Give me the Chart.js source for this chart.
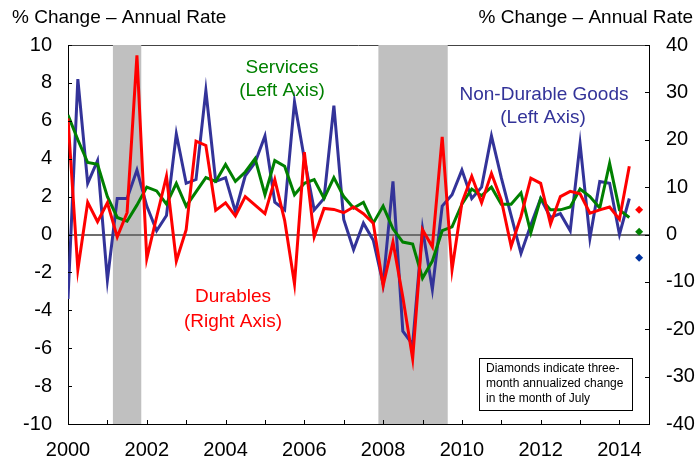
<!DOCTYPE html>
<html><head><meta charset="utf-8">
<script src="https://cdn.jsdelivr.net/npm/chart.js@4/dist/chart.umd.min.js"></script>
<style>html,body{margin:0;padding:0;background:#fff}#wrap{width:697px;height:460px}</style>
</head><body><div id="wrap"><canvas id="c" width="697" height="460"></canvas></div>
<script>
// Quarter positions (decimal years)
const quarters = [2000.00,2000.25,2000.50,2000.75,2001.00,2001.25,2001.50,2001.75,2002.00,2002.25,2002.50,2002.75,
2003.00,2003.25,2003.50,2003.75,2004.00,2004.25,2004.50,2004.75,2005.00,2005.25,2005.50,2005.75,
2006.00,2006.25,2006.50,2006.75,2007.00,2007.25,2007.50,2007.75,2008.00,2008.25,2008.50,2008.75,
2009.00,2009.25,2009.50,2009.75,2010.00,2010.25,2010.50,2010.75,2011.00,2011.25,2011.50,2011.75,
2012.00,2012.25,2012.50,2012.75,2013.00,2013.25,2013.50,2013.75,2014.00,2014.25];
// Non-durable goods, % change annual rate (left axis)
const nondurable = [-3.4,8.2,2.7,3.9,-2.4,1.9,1.9,3.4,1.5,0.2,1.0,5.3,2.7,2.9,7.6,2.8,3.0,1.2,3.1,3.8,5.2,1.7,1.3,7.0,
4.0,1.3,1.9,6.8,0.8,-0.8,0.6,-0.3,-2.6,2.8,-5.1,-5.8,0.3,-2.9,1.5,2.1,3.4,1.9,2.5,5.2,3.0,1.0,-1.0,0.5,
1.9,0.9,1.1,0.2,4.8,-0.2,2.8,2.7,0.0,1.9];
// Services (left axis)
const services = [6.3,5.0,3.8,3.7,2.0,0.9,0.7,1.55,2.5,2.3,1.6,2.7,1.5,2.25,3.0,2.8,3.7,2.8,3.3,4.0,2.1,3.9,3.6,2.1,
2.7,2.9,1.9,3.0,2.0,1.4,1.7,0.6,1.5,0.3,-0.4,-0.5,-2.3,-1.4,0.2,0.4,1.6,2.4,2.05,2.5,1.6,1.6,2.2,0.1,
1.9,1.3,1.3,1.45,2.4,2.0,1.4,3.75,1.3,0.9];
// Durables (right axis)
const durables = [24.5,-7.4,6.8,2.7,6.7,-0.5,4.6,37.8,-5.1,3.7,12.3,-5.6,1.0,19.7,18.8,5.1,6.7,3.9,8.0,6.2,4.4,11.6,3.0,-10.4,
17.4,-0.5,5.5,5.3,4.6,5.8,4.4,2.4,-10.8,-1.6,-13.2,-26.2,1.0,-2.6,20.6,-7.4,6.7,12.3,6.7,12.9,7.3,-2.5,3.8,11.9,
10.8,2.2,8.0,9.1,8.6,4.5,5.2,5.8,3.2,14.4];
// Three-month annualized change, July (diamonds)
const julyX = 2014.5;
const julyDurables = 5.2;     // right axis
const julyServices = 0.14;    // left axis
const julyNondurable = -1.23; // left axis
// Recession periods
const recessions = [[2001.14, 2001.86], [2007.88, 2009.64]];
// Axis ticks
const leftTicks = [-10,-8,-6,-4,-2,0,2,4,6,8,10];
const rightTicks = [-40,-30,-20,-10,0,10,20,30,40];
const yearTicks = [2000,2002,2004,2006,2008,2010,2012,2014];

const FONT = "'Liberation Sans', Arial, sans-serif";
const pts = arr => quarters.map((q,i)=>({x:q,y:arr[i]}));

const overlay = {
  id:'overlay',
  beforeDraw(chart){
    const {ctx, chartArea:a, scales:{x}} = chart;
    ctx.save();
    ctx.strokeStyle='#444'; ctx.lineWidth=1;
    ctx.beginPath(); ctx.moveTo(a.left, a.top+0.5); ctx.lineTo(a.right, a.top+0.5); ctx.stroke();
    ctx.fillStyle='#c0c0c0';
    recessions.forEach(([s,e])=>{
      const x0=x.getPixelForValue(s), x1=x.getPixelForValue(e);
      ctx.fillRect(x0, a.top, x1-x0, a.bottom-a.top);
    });
    ctx.restore();
  },
  afterDraw(chart){
    const {ctx, chartArea:a, scales:{x,y,y2}} = chart;
    ctx.save();
    ctx.strokeStyle='#000'; ctx.lineWidth=1;
    ctx.beginPath();
    leftTicks.forEach(v=>{const p=Math.round(y.getPixelForValue(v))+0.5; ctx.moveTo(a.left,p); ctx.lineTo(a.left+4,p);});
    rightTicks.forEach(v=>{const p=Math.round(y2.getPixelForValue(v))+0.5; ctx.moveTo(a.right,p); ctx.lineTo(a.right-4,p);});
    for(let yr=2001; yr<=2014; yr++){const p=Math.round(x.getPixelForValue(yr))+0.5; ctx.moveTo(p,a.bottom); ctx.lineTo(p,a.bottom-4);}
    ctx.stroke();
    // axis titles
    ctx.fillStyle='#000'; ctx.font='19px '+FONT; ctx.textBaseline='alphabetic';
    ctx.textAlign='left'; ctx.fillText('% Change – Annual Rate', 12, 23);
    ctx.textAlign='right'; ctx.fillText('% Change – Annual Rate', 693, 23);
    // series labels
    ctx.font='19px '+FONT; ctx.textAlign='center'; ctx.textBaseline='middle';
    ctx.fillStyle='#008000'; ctx.fillText('Services', 282, 68); ctx.fillText('(Left Axis)', 282, 91);
    ctx.fillStyle='#333399'; ctx.fillText('Non-Durable Goods', 544, 95); ctx.fillText('(Left Axis)', 543, 118);
    ctx.fillStyle='#ff0000'; ctx.fillText('Durables', 233, 297); ctx.fillText('(Right Axis)', 233, 322);
    // note box
    ctx.fillStyle='#fff'; ctx.fillRect(479.5,358.5,153,52);
    ctx.strokeStyle='#000'; ctx.strokeRect(479.5,358.5,153,52);
    ctx.fillStyle='#000'; ctx.font='12px '+FONT; ctx.textAlign='left'; ctx.textBaseline='middle';
    ctx.fillText('Diamonds indicate three-', 486, 369);
    ctx.fillText('month annualized change', 486, 384);
    ctx.fillText('in the month of July', 486, 399);
    ctx.restore();
  }
};

new Chart(document.getElementById('c'), {
  type:'line',
  data:{datasets:[
    {label:'Durables', data:pts(durables), yAxisID:'y2', borderColor:'#ff0000', borderWidth:3},
    {label:'Services', data:pts(services), yAxisID:'y', borderColor:'#008000', borderWidth:3},
    {label:'Non-Durable Goods', data:pts(nondurable), yAxisID:'y', borderColor:'#333399', borderWidth:3},
    {label:'Durables July', data:[{x:julyX,y:julyDurables}], yAxisID:'y2', showLine:false, pointStyle:'rectRot', pointRadius:4, backgroundColor:'#ff0000', borderColor:'#ff0000', borderWidth:0},
    {label:'Services July', data:[{x:julyX,y:julyServices}], yAxisID:'y', showLine:false, pointStyle:'rectRot', pointRadius:4, backgroundColor:'#008000', borderColor:'#008000', borderWidth:0},
    {label:'Non-Durable July', data:[{x:julyX,y:julyNondurable}], yAxisID:'y', showLine:false, pointStyle:'rectRot', pointRadius:4, backgroundColor:'#0033a0', borderColor:'#0033a0', borderWidth:0}
  ]},
  options:{
    responsive:false, animation:false, devicePixelRatio:1,
    layout:{padding:{top:45,left:0,right:0,bottom:0}},
    elements:{line:{tension:0, borderJoinStyle:'miter'}, point:{radius:0}},
    plugins:{legend:{display:false}, tooltip:{enabled:false}},
    scales:{
      x:{type:'linear', min:2000, max:2014.75,
         afterFit:s=>{s.height=36;},
         afterBuildTicks:s=>{s.ticks=yearTicks.map(v=>({value:v}));},
         ticks:{font:{family:FONT,size:20}, color:'#000', padding:14, maxRotation:0, autoSkip:false, callback:v=>String(v)},
         grid:{display:false, drawTicks:false}, border:{display:true, color:'#000', width:1}},
      y:{position:'left', min:-10, max:10,
         afterFit:s=>{s.width=68;},
         afterBuildTicks:s=>{s.ticks=leftTicks.map(v=>({value:v}));},
         ticks:{font:{family:FONT,size:20}, color:'#000', padding:16},
         grid:{drawTicks:false, lineWidth:2, color:c=>c.tick && c.tick.value===0 ? '#6e6e6e' : 'rgba(0,0,0,0)'},
         border:{display:true, color:'#000', width:1}},
      y2:{position:'right', min:-40, max:40,
         afterFit:s=>{s.width=48;},
         afterBuildTicks:s=>{s.ticks=rightTicks.map(v=>({value:v}));},
         ticks:{font:{family:FONT,size:20}, color:'#000', padding:17},
         grid:{display:false, drawTicks:false},
         border:{display:true, color:'#000', width:1}}
    }
  },
  plugins:[overlay]
});
</script></body></html>
